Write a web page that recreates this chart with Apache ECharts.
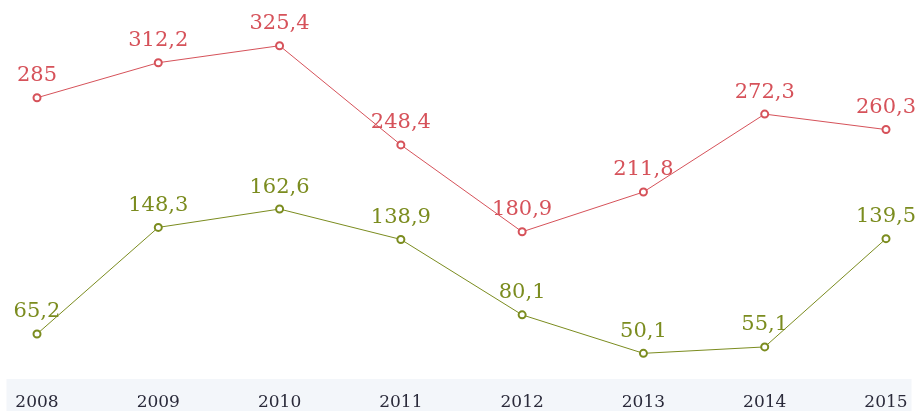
<!DOCTYPE html>
<html>
<head>
<meta charset="utf-8">
<script src="https://cdn.jsdelivr.net/npm/echarts@6/dist/echarts.min.js"></script>
<style>
html,body{margin:0;padding:0;background:#fff;}
#chart{width:917px;height:411px;}
</style>
</head>
<body>
<div id="chart"></div>
<script>
const categories = ['2008','2009','2010','2011','2012','2013','2014','2015'];
const redValues = [285, 312.2, 325.4, 248.4, 180.9, 211.8, 272.3, 260.3];
const greenValues = [65.2, 148.3, 162.6, 138.9, 80.1, 50.1, 55.1, 139.5];
const redRange = [43.3, 360.9];
const greenRange = [6.7, 325.6];

const RED = '#d6525a';
const GREEN = '#7b8c1f';
const FONT = 'DejaVu Serif';

const chart = echarts.init(document.getElementById('chart'), null, {renderer: 'canvas'});
const fmt = p => String(p.value).replace('.', ',');

chart.setOption({
  animation: false,
  backgroundColor: '#ffffff',
  graphic: [{
    type: 'rect', z: -10, silent: true,
    shape: {x: 6.5, y: 379, width: 905, height: 40},
    style: {fill: '#f3f6fa'}
  }],
  grid: {left: 37, right: 31, top: 0, bottom: 0, containLabel: false},
  xAxis: {
    type: 'category',
    data: categories,
    boundaryGap: false,
    axisLine: {show: false},
    axisTick: {show: false},
    splitLine: {show: false},
    axisLabel: {
      inside: true,
      margin: -2,
      verticalAlign: 'bottom',
      color: '#2a2a3a',
      fontFamily: FONT,
      fontSize: 17
    }
  },
  yAxis: [
    {type: 'value', min: redRange[0], max: redRange[1], show: false},
    {type: 'value', min: greenRange[0], max: greenRange[1], show: false}
  ],
  series: [
    {
      type: 'line', yAxisIndex: 0, data: redValues,
      symbol: 'emptyCircle', symbolSize: 7,
      lineStyle: {color: RED, width: 1},
      itemStyle: {color: RED, borderWidth: 2},
      label: {show: true, position: 'top', distance: 7, color: RED,
              fontFamily: FONT, fontSize: 21, formatter: fmt}
    },
    {
      type: 'line', yAxisIndex: 1, data: greenValues,
      symbol: 'emptyCircle', symbolSize: 7,
      lineStyle: {color: GREEN, width: 1},
      itemStyle: {color: GREEN, borderWidth: 2},
      label: {show: true, position: 'top', distance: 7, color: GREEN,
              fontFamily: FONT, fontSize: 21, formatter: fmt}
    }
  ]
});
</script>
</body>
</html>
